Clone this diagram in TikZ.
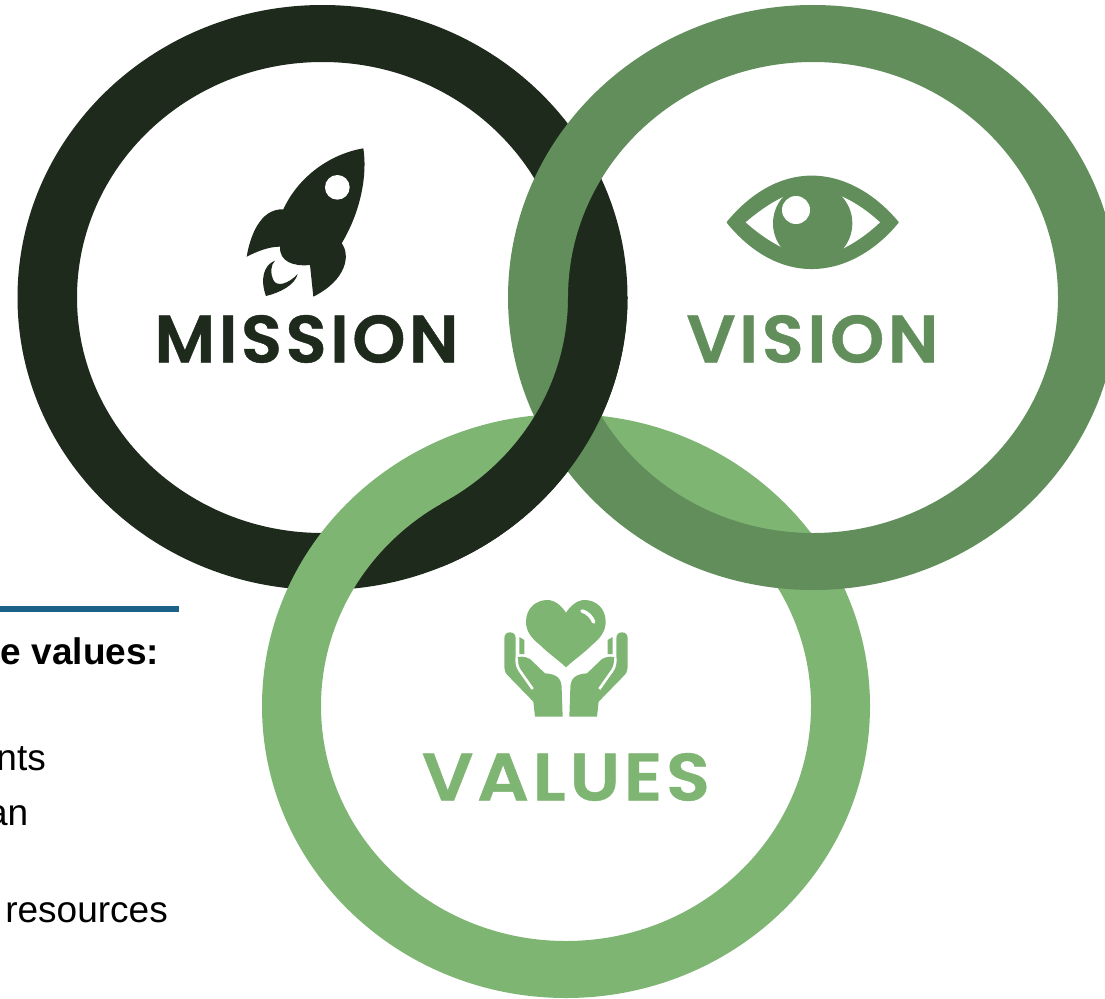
\documentclass[tikz,border=0pt]{standalone}
\usepackage{fontspec}
\usepackage{graphicx}
\setmainfont{Liberation Sans}
\newfontfamily\logofont{Poppins SemiBold}[LetterSpace=5,FakeBold=0.6]
\definecolor{missioncol}{HTML}{1E2A1C}
\definecolor{visioncol}{HTML}{618E5B}
\definecolor{valuescol}{HTML}{7FB573}
\definecolor{barcol}{HTML}{1B6288}
\newcommand{\missionring}{\fill[missioncol,even odd rule] (322.5,297.5) ellipse [x radius=305,y radius=292.5] (322.5,297.5) ellipse [x radius=245.5,y radius=235.5];}
\newcommand{\visionring}{\fill[visioncol,even odd rule] (813,297.5) ellipse [x radius=305,y radius=292.5] (813,297.5) ellipse [x radius=245,y radius=235.5];}
\newcommand{\valuesring}{\fill[valuescol,even odd rule] (566,706) ellipse [x radius=304,y radius=292] (566,706) ellipse [x radius=245,y radius=235];}
\newcommand{\handshape}{%
  \fill[valuescol] (43,145) .. controls (43,133) and (50,127) .. (60,127) .. controls (70,127) and (77,133) .. (77,145) -- (77,205)
    .. controls (85,198) and (105,198) .. (120,207) -- (165,250) .. controls (200,252) and (215,265) .. (215,295) -- (218,380) -- (135,380) -- (130,335) -- (55,258) .. controls (47,250) and (43,243) .. (43,232) -- cycle;
  \draw[white,line width=2.6pt,line join=round] (80,203) .. controls (80,215) and (80,228) .. (88,240) -- (128,297);
  \fill[valuescol] (88,141) -- (103,150) -- (103,192) -- (88,192) -- cycle;
}
\tikzset{
  word/.style={inner sep=0pt,font=\logofont},
  bodytext/.style={inner sep=0pt,anchor=base east,text=black,font=\fontsize{37}{42}\selectfont},
}
\begin{document}
\begin{tikzpicture}[x=1pt,y=-1pt]
\useasboundingbox (0,0) rectangle (1105,998);
\fill[white] (0,0) rectangle (1105,998);
\begin{scope}
\clip (0,0) rectangle (1105,998);
% bar and cropped text
\fill[barcol] (0,606) rectangle (179,611.5);
\node[bodytext,font=\fontsize{37}{42}\selectfont\bfseries] (t1) at (159.5,664) {e values:};
\node[bodytext] (t2) at (46,770) {nts};
\node[bodytext] (t3) at (28.5,825) {an};
\node[bodytext] (t4) at (168,922) {resources};
% woven rings
\missionring
\valuesring
\visionring
\begin{scope}
\clip (441,297.5) rectangle (1105,998);
\missionring
\end{scope}
\end{scope}
% words
\node[word,text=missioncol] (mission) at (306.5,339) {\resizebox{304pt}{47.5pt}{MISSION}};
\node[word,text=visioncol] (vision) at (812.5,339) {\resizebox{252pt}{47.5pt}{VISION}};
\node[word,text=valuescol] (values) at (566,777) {\resizebox{288pt}{47.5pt}{VALUES}};
% rocket
\begin{scope}[shift={(230,130)},scale=1/3]
\fill[missioncol] (400,55) .. controls (412,130) and (395,240) .. (335,340)
  .. controls (362,375) and (350,450) .. (250,500)
  -- (240,405) .. controls (190,410) and (148,395) .. (150,350)
  .. controls (115,350) and (80,365) .. (50,380)
  .. controls (60,320) and (90,235) .. (160,238)
  .. controls (205,140) and (300,72) .. (400,55) -- cycle;
\fill[white] (322,172) circle [radius=37];
\fill[missioncol] (135,392) .. controls (100,405) and (90,450) .. (108,498)
  .. controls (150,488) and (195,465) .. (203,432)
  .. controls (175,462) and (140,472) .. (130,450)
  .. controls (120,430) and (122,405) .. (135,392) -- cycle;
\end{scope}
% eye
\begin{scope}[shift={(710,160)},scale=1/3]
\filldraw[visioncol,line width=1.5pt,line join=round] (52,187) .. controls (122,102) and (210,49) .. (305,49)
  .. controls (400,49) and (493,102) .. (564,187)
  .. controls (493,273) and (400,325) .. (305,325)
  .. controls (210,325) and (122,273) .. (52,187) -- cycle;
\fill[white] (107,187) .. controls (150,150) and (195,120) .. (238,103) -- (380,103)
  .. controls (425,120) and (470,150) .. (510,187)
  .. controls (470,225) and (425,255) .. (385,272) -- (238,272)
  .. controls (195,255) and (150,225) .. (107,187) -- cycle;
\fill[visioncol] (308,190) circle [radius=119];
\fill[white] (258,150) circle [radius=42];
\end{scope}
% heart and hands
\begin{scope}[shift={(490,590)},scale=1/3]
\fill[valuescol] (228,232) .. controls (205,210) and (175,190) .. (150,165)
  .. controls (125,145) and (108,125) .. (108,95)
  .. controls (108,55) and (138,30) .. (172,30)
  .. controls (195,30) and (215,48) .. (228,68)
  .. controls (241,48) and (261,30) .. (284,30)
  .. controls (318,30) and (347,55) .. (347,95)
  .. controls (347,125) and (330,145) .. (306,165)
  .. controls (281,190) and (251,210) .. (228,232) -- cycle;
\draw[white,line width=3.6pt,line cap=round] (276,63) .. controls (292,67) and (305,80) .. (311,96);
\handshape
\begin{scope}[shift={(456,0)},xscale=-1]
\handshape
\end{scope}
\end{scope}
\end{tikzpicture}
\end{document}
